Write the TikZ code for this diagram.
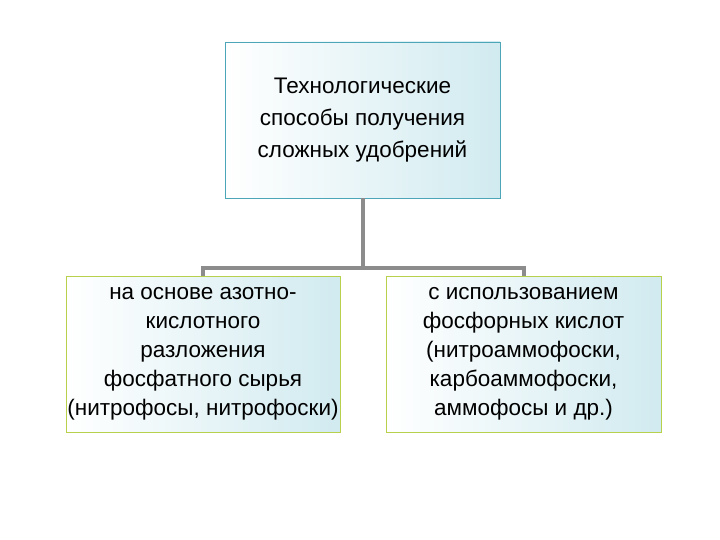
\documentclass[tikz,border=0pt]{standalone}
\usepackage{fontspec}
\setmainfont{Liberation Sans}
\definecolor{tint}{rgb}{0.82,0.92,0.94}
\definecolor{topb}{rgb}{0.3,0.65,0.72}
\definecolor{botb}{rgb}{0.72,0.82,0.3}
\begin{document}
\begin{tikzpicture}[x=1pt,y=-1pt,
  box/.style={draw=#1,line width=0.8pt,minimum height=156pt,align=center,
    shading=axis,shading angle=45,left color=white,right color=tint,
    font=\fontsize{22.5}{29}\selectfont,inner sep=0pt},
  conn/.style={draw=gray!90,line width=4pt}]
\useasboundingbox (0,0) rectangle (720,540);
\node[box=topb,minimum width=275pt,font=\fontsize{22.5}{32}\selectfont] (top) at (362.5,120) {Технологические\\способы получения\\сложных удобрений};
\node[box=botb,minimum width=274pt] (l) at (203,354) {на основе азотно-\\кислотного\\разложения\\фосфатного сырья\\(нитрофосы, нитрофоски)};
\node[box=botb,minimum width=275pt] (r) at (523.5,354) {с использованием\\ фосфорных кислот\\(нитроаммофоски,\\карбоаммофоски,\\аммофосы и др.)};
\coordinate (j) at (top.south |- 0,268);
\draw[conn] (top.south) -- (j);
\draw[conn] (l.north) -- (l.north |- j) -- (r.north |- j) -- (r.north);
\end{tikzpicture}
\end{document}
